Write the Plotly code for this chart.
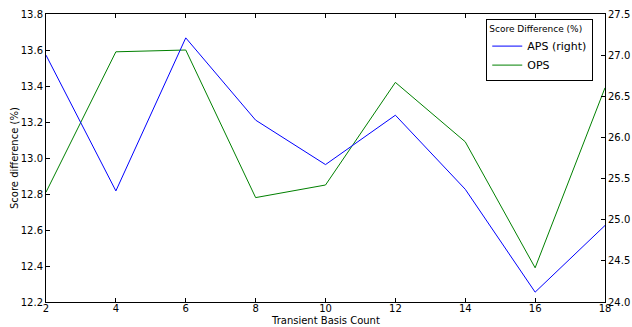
import plotly.graph_objects as go

# Transient basis counts and score differences for the two methods
basis_count = [2, 4, 6, 8, 10, 12, 14, 16, 18]
aps_right = [27.00, 25.35, 27.21, 26.21, 25.67, 26.27, 25.37, 24.12, 24.93]
ops_left = [12.81, 13.59, 13.60, 12.78, 12.85, 13.42, 13.09, 12.39, 13.39]

x_ticks = [2, 4, 6, 8, 10, 12, 14, 16, 18]

FONT = "DejaVu Sans"

fig = go.Figure()
fig.add_trace(go.Scatter(x=basis_count, y=aps_right, name="APS (right)", mode="lines",
                         line=dict(color="#0000ff", width=1), yaxis="y2"))
fig.add_trace(go.Scatter(x=basis_count, y=ops_left, name="OPS", mode="lines",
                         line=dict(color="#008000", width=1), yaxis="y"))

axis_common = dict(showgrid=False, zeroline=False, showline=True, linecolor="black",
                   linewidth=1, ticks="inside", ticklen=4, tickcolor="black",
                   automargin=False,
                   tickfont=dict(family=FONT, size=10, color="black"))

fig.update_layout(
    width=632, height=327,
    margin=dict(l=46, r=27, t=14, b=25),
    paper_bgcolor="white", plot_bgcolor="white",
    font=dict(family=FONT, size=10, color="black"),
    xaxis=dict(range=[2, 18], tickvals=x_ticks, mirror="ticks", ticklabelstandoff=-3,
               **axis_common),
    yaxis=dict(range=[12.2, 13.8], dtick=0.2, tick0=12.2, tickformat=".1f", **axis_common),
    yaxis2=dict(range=[24.0, 27.5], dtick=0.5, tick0=24.0, tickformat=".1f",
                overlaying="y", side="right", **axis_common),
    legend=dict(x=0.979, y=0.983, xanchor="right", yanchor="top",
                bordercolor="black", borderwidth=1, bgcolor="white",
                font=dict(family=FONT, size=11),
                title=dict(text="Score Difference (%)", font=dict(size=9)),
                itemwidth=30, tracegroupgap=0),
    showlegend=True,
    annotations=[
        dict(text="Transient Basis Count", xref="paper", yref="paper",
             x=0.5, y=-0.065, xanchor="center", yanchor="middle",
             showarrow=False, font=dict(family=FONT, size=10)),
        dict(text="Score difference (%)", xref="paper", yref="paper",
             x=-0.0572, y=0.5, xanchor="center", yanchor="middle", textangle=-90,
             showarrow=False, font=dict(family=FONT, size=10)),
    ],
)

fig.write_html("out.html")
